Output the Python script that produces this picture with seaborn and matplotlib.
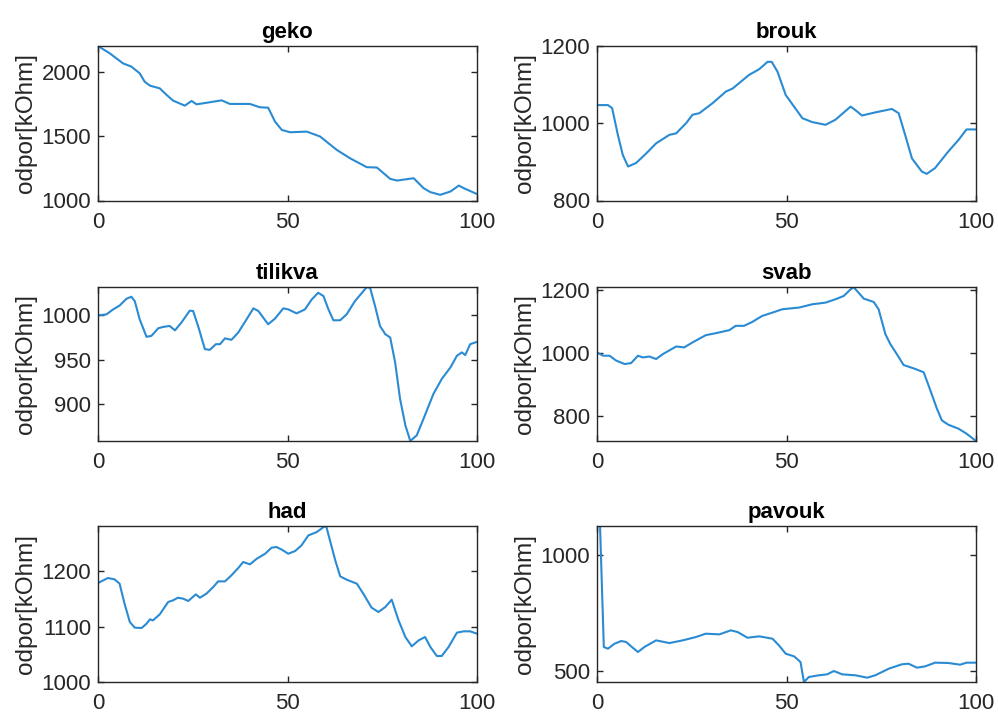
import numpy as np
import pandas as pd
import matplotlib
matplotlib.use("Agg")
import matplotlib.pyplot as plt
import seaborn as sns

# ---------------- data ----------------
titles = ["geko", "brouk", "tilikva", "svab", "had", "pavouk"]

geko_x = [0, 3.1, 6.6, 8.8, 11.0, 12.3, 13.7, 16.3, 18.1, 19.8, 22.9, 24.7, 26.0, 29.5, 32.6, 34.8,
          40.1, 42.7, 44.9, 46.7, 48.5, 50.7, 55.1, 58.6, 63.0, 66.5, 70.9, 73.6, 77.1, 78.9, 83.3,
          85.9, 87.7, 90.3, 93.0, 95.2, 96.5, 100]
geko_y = [2200, 2143, 2065, 2040, 1988, 1923, 1892, 1871, 1820, 1776, 1737, 1773, 1747, 1763, 1778, 1750,
          1750, 1724, 1721, 1613, 1548, 1530, 1535, 1497, 1393, 1328, 1259, 1256, 1168, 1155, 1173,
          1096, 1065, 1044, 1070, 1116, 1096, 1050]

brouk_x = [0, 2.9, 4.0, 5.5, 6.8, 8.2, 10.3, 13.0, 15.6, 19.1, 20.9, 23.5, 25.2, 27.0, 30.5, 34.0,
           35.8, 40.1, 42.8, 45.0, 46.1, 47.6, 49.8, 52.0, 54.2, 56.8, 60.3, 62.9, 66.9, 68.2, 69.9,
           73.4, 77.8, 79.6, 81.3, 83.1, 85.7, 87.0, 89.2, 92.7, 95.4, 97.5, 100]
brouk_y = [1047, 1047, 1039, 970, 918, 888, 897, 922, 948, 970, 974, 1000, 1022, 1026, 1052, 1082,
           1090, 1125, 1140, 1159, 1159, 1134, 1073, 1043, 1013, 1003, 996, 1009, 1043, 1034, 1020,
           1028, 1037, 1026, 970, 909, 875, 869, 884, 927, 957, 984, 984]

tilikva_x = [0, 2.2, 4.0, 5.7, 7.5, 8.8, 9.7, 11.0, 12.8, 14.1, 15.9, 17.2, 18.9, 20.3, 22.0, 24.2,
             25.1, 26.4, 28.2, 29.5, 31.1, 32.2, 33.5, 35.2, 37.0, 39.2, 41.0, 42.3, 44.9, 46.7, 48.9,
             50.2, 52.4, 54.6, 56.4, 58.1, 59.5, 60.8, 62.1, 63.9, 65.6, 67.8, 70.9, 71.8, 73.1, 74.4,
             75.8, 77.1, 78.4, 79.7, 81.1, 82.4, 84.1, 85.9, 88.5, 90.7, 93.0, 94.7, 96.0, 96.9, 98.2, 100]
tilikva_y = [1000, 1001, 1006.7, 1011, 1018.7, 1021, 1016, 995.5, 975.7, 976.8, 985.4, 986.9, 988, 983,
             991.8, 1005.2, 1004.9, 988, 961.8, 961, 967.4, 967.4, 974, 972.3, 980.5, 995.5, 1007.9,
             1004.9, 989.9, 996.3, 1007.9, 1006.7, 1002.2, 1006.7, 1018, 1025.5, 1021.7, 1006.7, 994.4,
             994.4, 1001.1, 1016.1, 1031.8, 1031.1, 1010.5, 988, 978.7, 974.9, 946.8, 905.6, 875.7, 858,
             864.4, 883.2, 911.2, 928.1, 941.2, 954.3, 958.1, 955.1, 967.4, 970]

svab_x = [0, 1.6, 3.3, 5.1, 7.3, 9.0, 10.8, 12.1, 13.8, 15.6, 17.4, 20.9, 23.0, 25.2, 28.7, 31.4,
          34.9, 36.6, 38.8, 41.0, 43.6, 46.3, 48.9, 53.3, 56.8, 60.3, 62.9, 65.1, 66.9, 67.7, 68.6,
          70.4, 73.0, 74.3, 76.1, 77.4, 79.1, 80.9, 84.0, 86.2, 87.5, 89.7, 91.0, 92.7, 95.4, 97.5, 100]
svab_y = [1002, 991.5, 991.5, 975.7, 965, 968, 991.5, 986, 989, 981, 996.8, 1021, 1018, 1033.9, 1057,
          1063.5, 1073, 1086.8, 1086.8, 1099.5, 1118.5, 1129, 1139.7, 1145, 1155.5, 1160.8, 1171.4,
          1182, 1203, 1210, 1198, 1173.5, 1163, 1139.7, 1060, 1028.6, 996.8, 961.9, 949.2, 938.6,
          896.3, 822.3, 785.2, 771.5, 758.8, 742.9, 719.6]

had_x = [0, 2.6, 4.4, 5.7, 7.0, 8.4, 9.7, 11.5, 12.8, 13.7, 14.5, 16.3, 18.5, 19.8, 21.1, 22.5, 23.8,
         25.8, 26.9, 28.6, 30.4, 31.7, 33.5, 35.2, 37.0, 38.3, 40.1, 41.9, 44.1, 45.8, 47.1, 48.5,
         50.2, 52.0, 53.7, 55.5, 57.7, 59.5, 60.2, 61.2, 62.6, 63.9, 65.6, 68.3, 70.0, 72.2, 74.0,
         75.8, 77.5, 79.3, 81.1, 82.8, 84.6, 86.3, 87.7, 89.4, 90.7, 92.5, 94.7, 96.5, 98.2, 100]
had_y = [1178.9, 1188, 1185.5, 1177.7, 1141.6, 1108.4, 1098.2, 1097.6, 1105.4, 1113.3, 1111.4, 1122.3,
         1144.6, 1147.6, 1152.4, 1150.6, 1146.4, 1158.4, 1152.4, 1159.6, 1171.7, 1181.9, 1181.9,
         1192.8, 1206, 1216.9, 1212.7, 1222.9, 1231.9, 1242.8, 1244, 1239.2, 1231.9, 1236.7, 1247,
         1265, 1271, 1280, 1282, 1256, 1220, 1191, 1185, 1177.7, 1159.6, 1134.3, 1126.5, 1135.5,
         1148.8, 1111.4, 1081.3, 1064.5, 1075.3, 1081.3, 1063.3, 1047, 1047, 1063.3, 1089.2, 1091.6,
         1091.6, 1087.3]

pavouk_x = [0.8, 1.8, 2.9, 4.6, 6.4, 7.7, 9.0, 10.8, 12.5, 15.6, 19.1, 22.6, 26.1, 28.7, 32.3, 35.3,
            37.1, 39.7, 42.8, 46.3, 48.0, 49.8, 52.0, 53.7, 54.6, 55.9, 58.5, 60.7, 62.5, 64.7, 68.2,
            71.3, 73.4, 77.0, 80.4, 82.2, 84.4, 86.6, 89.2, 92.7, 95.8, 97.5, 100]
pavouk_y = [1127, 605, 597.7, 619, 630.8, 626.5, 607.8, 583.3, 605, 633.6, 622, 633.6, 648, 662.4,
            659.5, 676.8, 669.6, 645, 651, 640.8, 612, 576, 564.7, 540, 454, 475.6, 482.8, 487, 501.4,
            487, 482.8, 472.7, 482.8, 511.5, 530.2, 533, 515.8, 521.6, 537.4, 536, 528.7, 537.4, 537.4]

series_x = [geko_x, brouk_x, tilikva_x, svab_x, had_x, pavouk_x]
series_y = [geko_y, brouk_y, tilikva_y, svab_y, had_y, pavouk_y]

ylims = [(1000, 2200), (800, 1200), (858, 1032), (719.6, 1210.6), (1000, 1282), (454, 1127)]
yticks = [[1000, 1500, 2000], [800, 1000, 1200], [900, 950, 1000], [800, 1000, 1200],
          [1000, 1100, 1200], [500, 1000]]
xticks = [0, 50, 100]
ylabel = "odpor[kOhm]"

# ---------------- style ----------------
sns.set_style("ticks")
plt.rcParams["font.family"] = ["Liberation Sans", "DejaVu Sans"]
dark = "#262626"
plt.rcParams.update({
    "axes.edgecolor": dark,
    "axes.linewidth": 1.0,
    "xtick.color": dark,
    "ytick.color": dark,
    "text.color": "#000000",
})

W, H = 998, 713
fig = plt.figure(figsize=(W / 100, H / 100), dpi=100)

col_x = [98, 597]
ax_w = 379
row_tops = [46, 287, 526]
row_bottoms = [200.5, 441, 682]

line_color = "#2a8bd3"

for i in range(6):
    r, c = divmod(i, 2)
    left = col_x[c] / W
    bottom = 1 - row_bottoms[r] / H
    height = (row_bottoms[r] - row_tops[r]) / H
    ax = fig.add_axes([left, bottom, ax_w / W, height])
    df = pd.DataFrame({"x": series_x[i], "y": series_y[i]})
    sns.lineplot(data=df, x="x", y="y", ax=ax, color=line_color, linewidth=1.5,
                 sort=False, estimator=None)
    ax.set_xlim(0, 100)
    ax.set_ylim(*ylims[i])
    ax.set_xticks(xticks)
    ax.set_yticks(yticks[i])
    ax.tick_params(direction="in", length=4, width=1.0, top=True, right=True,
                   labelsize=16, labelcolor=dark)
    ax.tick_params(axis="x", pad=8)
    ax.tick_params(axis="y", pad=5)
    ax.set_xlabel("")
    ax.set_ylabel(ylabel, fontsize=17.5, color=dark, labelpad=3)
    ax.set_title(titles[i], fontsize=16, fontweight="bold", pad=6)
    for s in ax.spines.values():
        s.set_visible(True)
        s.set_color(dark)

fig.savefig("out.png", dpi=100, facecolor="white")
